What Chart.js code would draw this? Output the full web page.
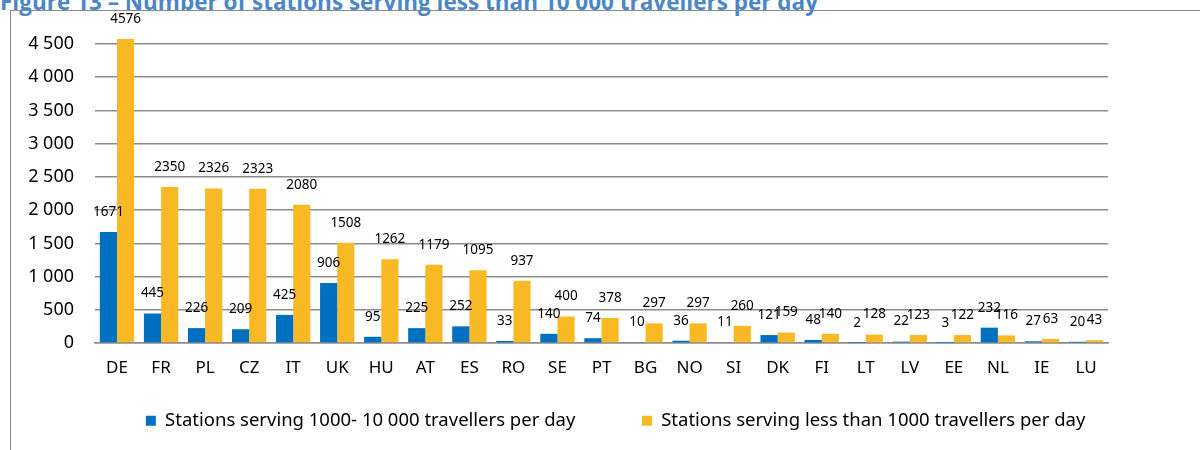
<!DOCTYPE html>
<html>
<head>
<meta charset="utf-8">
<script src="https://cdn.jsdelivr.net/npm/chart.js@4.4.1/dist/chart.umd.min.js"></script>
<style>
  html, body { margin: 0; padding: 0; background: #fff; overflow: hidden; }
  body { width: 1200px; height: 450px; position: relative; }
  #title {
    position: absolute; left: 0; top: -14px; white-space: nowrap;
    font: bold 22.5px "Open Sans", sans-serif; color: #4a86c8;
  }
  #frame {
    position: absolute; left: 10px; top: 10px; width: 1200px; height: 450px;
    border-left: 1px solid #8a8a8a; border-top: 1px solid #8a8a8a;
  }
  #wrap { position: absolute; left: 10px; top: 10px; width: 1190px; height: 440px; }
</style>
</head>
<body>
<div id="title">Figure 13 – Number of stations serving less than 10 000 travellers per day</div>
<div id="frame"></div>
<div id="wrap"><canvas id="chart"></canvas></div>
<script>
// countries along the x axis
const countries = ['DE', 'FR', 'PL', 'CZ', 'IT', 'UK', 'HU', 'AT', 'ES', 'RO', 'SE', 'PT',
                   'BG', 'NO', 'SI', 'DK', 'FI', 'LT', 'LV', 'EE', 'NL', 'IE', 'LU'];

// stations serving 1000 - 10 000 travellers per day
const midStations = [1671, 445, 226, 209, 425, 906, 95, 225, 252, 33, 140, 74,
                     10, 36, 11, 121, 48, 2, 22, 3, 232, 27, 20];

// stations serving less than 1000 travellers per day
const smallStations = [4576, 2350, 2326, 2323, 2080, 1508, 1262, 1179, 1095, 937, 400, 378,
                       297, 297, 260, 159, 140, 128, 123, 122, 116, 63, 43];

const seriesNames = ['Stations serving 1000- 10 000 travellers per day',
                     'Stations serving less than 1000 travellers per day'];
const seriesColors = ['#0070c0', '#f9b924'];

const yTicks = [0, 500, 1000, 1500, 2000, 2500, 3000, 3500, 4000, 4500];

const FONT = '"Noto Sans", sans-serif';

function spaced(v) {
    return String(v).replace(/\B(?=(\d{3})+(?!\d))/g, ' ');
}

// value labels above every bar
const valueLabels = {
    id: 'valueLabels',
    afterDatasetsDraw(chart) {
        const ctx = chart.ctx;
        ctx.save();
        ctx.font = '13.5px ' + FONT;
        ctx.fillStyle = '#000';
        ctx.textAlign = 'center';
        ctx.textBaseline = 'middle';
        chart.data.datasets.forEach((ds, i) => {
            chart.getDatasetMeta(i).data.forEach((bar, j) => {
                ctx.fillText(ds.data[j], bar.x, bar.y - 20);
            });
        });
        ctx.restore();
    }
};

const ctx = document.getElementById('chart').getContext('2d');
new Chart(ctx, {
    type: 'bar',
    data: {
        labels: countries,
        datasets: [
            { label: seriesNames[0], data: midStations, backgroundColor: seriesColors[0], clip: false },
            { label: seriesNames[1], data: smallStations, backgroundColor: seriesColors[1], clip: false }
        ]
    },
    options: {
        responsive: true,
        maintainAspectRatio: false,
        animation: false,
        categoryPercentage: 0.78,
        barPercentage: 1,
        layout: { padding: { left: 0, right: 92, top: 34, bottom: 10 } },
        plugins: {
            title: { display: false },
            tooltip: { enabled: false },
            legend: {
                position: 'bottom',
                labels: {
                    boxWidth: 10,
                    boxHeight: 10,
                    padding: 20,
                    color: '#000',
                    font: { family: FONT, size: 18.5 },
                    generateLabels(chart) {
                        const items = Chart.defaults.plugins.legend.labels.generateLabels(chart);
                        items.forEach((it, i) => {
                            it.lineWidth = 0;
                            if (i === 0) it.text = it.text + '\u2003\u2003  ';
                        });
                        // invisible spacer pushes the row to the right like the original
                        const spacer = {
                            text: '\u2003\u2003\u2003\u2003',
                            fillStyle: 'rgba(0,0,0,0)',
                            strokeStyle: 'rgba(0,0,0,0)',
                            lineWidth: 0,
                            hidden: false,
                            datasetIndex: -1
                        };
                        return [spacer].concat(items);
                    }
                }
            }
        },
        scales: {
            x: {
                grid: { display: false },
                border: { display: true, color: '#8c8c8c', width: 1.5 },
                ticks: { color: '#000', padding: 7, font: { family: FONT, size: 17 } },
                afterFit: s => { s.height += 6; }
            },
            y: {
                min: 0,
                max: 4500,
                afterBuildTicks: s => { s.ticks = yTicks.map(v => ({ value: v })); },
                afterFit: s => { s.width = 85; },
                grid: { color: '#8c8c8c', lineWidth: 1.5, drawTicks: false },
                border: { display: false },
                ticks: {
                    color: '#000',
                    padding: 21,
                    font: { family: FONT, size: 18 },
                    callback: v => spaced(v)
                }
            }
        }
    },
    plugins: [valueLabels]
});
</script>
</body>
</html>
